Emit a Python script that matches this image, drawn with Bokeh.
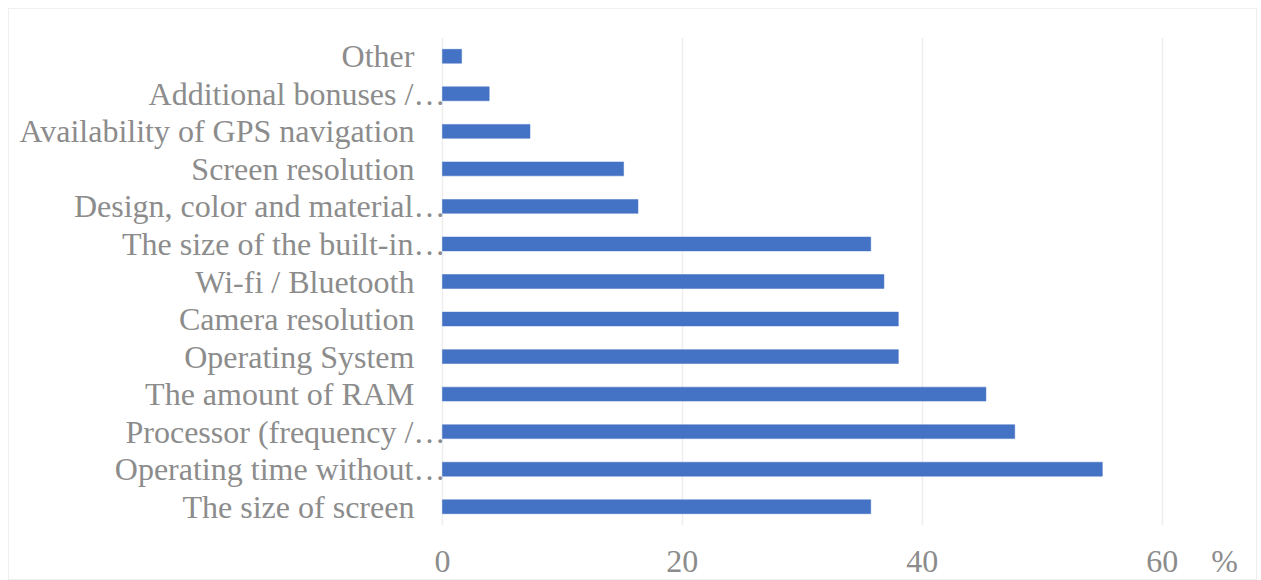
from bokeh.plotting import figure
from bokeh.models import FixedTicker, ColumnDataSource
from bokeh.core.properties import value
from bokeh.embed import file_html
from bokeh.resources import INLINE

# Categories from bottom to top, as drawn
categories = [
    "The size of screen",
    "Operating time without…",
    "Processor (frequency /…",
    "The amount of RAM",
    "Operating System",
    "Camera resolution",
    "Wi-fi / Bluetooth",
    "The size of the built-in…",
    "Design, color and material…",
    "Screen resolution",
    "Availability of GPS navigation",
    "Additional bonuses /…",
    "Other",
]
values = [35.7, 55.0, 47.7, 45.3, 38.0, 38.0, 36.8, 35.7, 16.3, 15.1, 7.3, 3.9, 1.6]
x_ticks = [0, 20, 40, 60]
unit_label = "%"

font = "Liberation Serif"
gray = "#8c8c8c"

label_offsets = [3 if c.endswith("…") else -28 for c in categories]
src = ColumnDataSource(dict(cat=categories, val=values,
                            zero=[0] * len(categories), off=label_offsets))

p = figure(
    y_range=categories,
    x_range=(-36.08, 66.6),
    width=1249,
    height=572,
    output_backend="svg",
    toolbar_location=None,
    min_border_left=0,
    min_border_right=17,
    min_border_top=28,
    min_border_bottom=51,
)
p.margin = (8, 4, 0, 8)
p.styles = {"border": "1px solid #efefef"}
p.outline_line_color = None
p.background_fill_color = "white"
p.border_fill_color = "white"

p.hbar(y="cat", right="val", left=0, height=0.37, source=src,
       fill_color="#4472C4", line_color="#4472C4", line_width=0.5)

# category labels
p.text(x="zero", y="cat", text="cat", x_offset="off", source=src,
       text_align="right", text_baseline="middle",
       text_font=value(font), text_font_size="32px", text_color=gray)

p.yaxis.visible = False

# x axis
tick_pos = x_ticks + [65.2]
p.xaxis.ticker = FixedTicker(ticks=tick_pos)
p.xaxis.major_label_overrides = {65.2: unit_label}
p.xaxis.axis_line_color = None
p.xaxis.major_tick_line_color = None
p.xaxis.minor_tick_line_color = None
p.xaxis.major_label_standoff = 11
p.xaxis.major_label_text_font = font
p.xaxis.major_label_text_font_size = "32px"
p.xaxis.major_label_text_color = gray

p.xgrid.ticker = FixedTicker(ticks=x_ticks)
p.xgrid.grid_line_color = "#eeeeee"
p.xgrid.grid_line_width = 1.5
p.ygrid.grid_line_color = None

open("out.html", "w").write(file_html(p, INLINE))
